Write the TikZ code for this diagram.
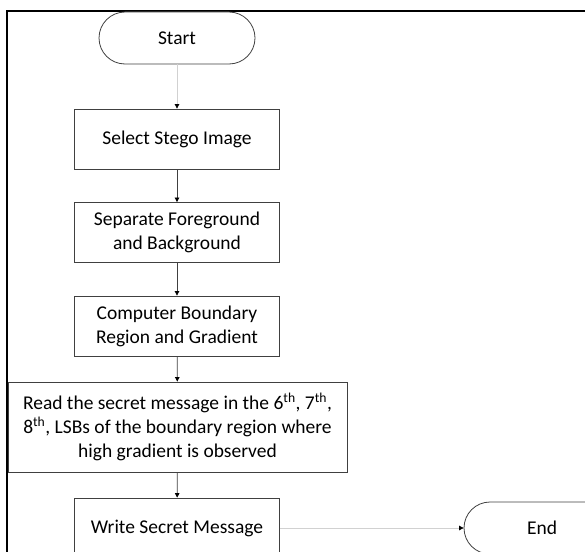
\documentclass[tikz,border=0pt]{standalone}
\usepackage{fontspec}
\setmainfont{Carlito}
\usetikzlibrary{arrows.meta}
\begin{document}
\begin{tikzpicture}[x=1pt,y=-1pt,
  proc/.style={draw=black!75,line width=0.8pt,fill=white,minimum width=205pt,minimum height=60pt,inner sep=0pt,align=center,font=\fontsize{19.5}{24}\selectfont},
  term/.style={draw=black!75,line width=0.8pt,fill=white,rounded corners=26pt,minimum width=156pt,minimum height=52pt,inner sep=0pt,font=\fontsize{19.5}{24}\selectfont},
  flow/.style={draw=black!75,line width=0.7pt,-{Triangle[length=4.5pt,width=4.5pt,color=black]}},
  faint/.style={draw=black!18,line width=0.7pt,-{Triangle[length=4.5pt,width=4.5pt,color=black]}}]
\useasboundingbox (0,0) rectangle (585,551);
\clip (0,0) rectangle (585,551);
\draw[line width=1.5pt] (7,600) -- (7,11) -- (600,11);
\node[term] (start) at (177,38) {Start};
\node[proc] (select) at (177,139) {Select Stego Image};
\node[proc] (sep) at (177,232.5) {Separate Foreground\\and Background};
\node[proc] (comp) at (177,326) {Computer Boundary\\Region and Gradient};
\node[proc,minimum width=339pt,minimum height=90pt] (read) at (177.5,427) {Read the secret message in the 6\textsuperscript{th}, 7\textsuperscript{th},\\8\textsuperscript{th}, LSBs of the boundary region where\\high gradient is observed};
\node[proc] (write) at (177,528) {Write Secret Message};
\node[term] (end) at (542,528) {End};
\draw[faint] (start) -- (select);
\draw[flow] (select) -- (sep);
\draw[flow] (sep) -- (comp);
\draw[flow] (comp) -- (read);
\draw[flow] (read) -- (write);
\draw[faint] (write) -- (end);
\end{tikzpicture}
\end{document}
